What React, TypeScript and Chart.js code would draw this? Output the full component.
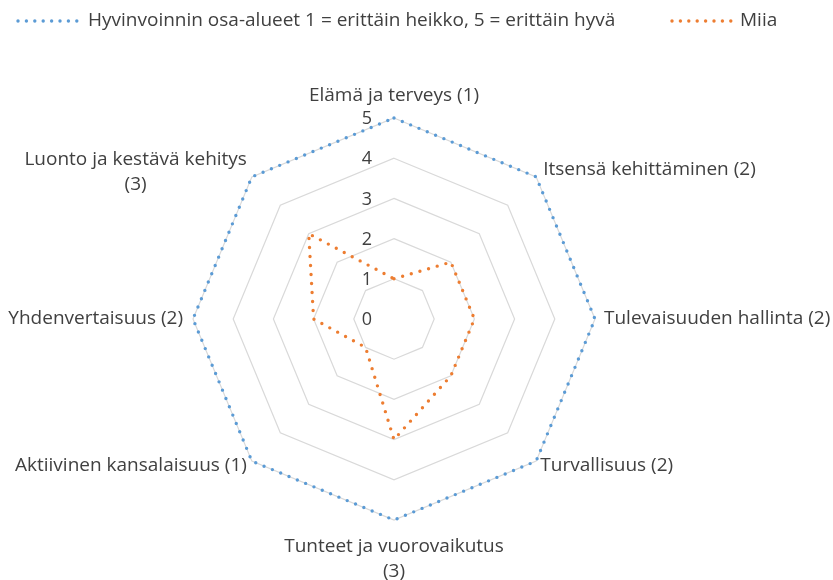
import React, { useEffect, useRef } from "react";
import { Chart, registerables } from "chart.js";

Chart.register(...registerables);

const categories: string[][] = [
  ["Elämä ja terveys (1)"],
  ["Itsensä kehittäminen (2)"],
  ["Tulevaisuuden hallinta (2)"],
  ["Turvallisuus (2)"],
  ["Tunteet ja vuorovaikutus", "(3)"],
  ["Aktiivinen kansalaisuus (1)"],
  ["Yhdenvertaisuus (2)"],
  ["Luonto ja kestävä kehitys", "(3)"],
];
const seriesNames = [
  "Hyvinvoinnin osa-alueet 1 = erittäin heikko, 5 = erittäin hyvä",
  "Miia",
];
const scaleValues = [5, 5, 5, 5, 5, 5, 5, 5];
const miiaValues = [1, 2, 2, 2, 3, 1, 2, 3];
const tickValues = [0, 1, 2, 3, 4, 5];

const FONT = "'Open Sans', Lato, sans-serif";
const TEXT = "#404040";
const BLUE = "#5B9BD5";
const ORANGE = "#ED7D31";

const labelPads = [10, 10, 9, 6, 14, 7, 10, 7];

const customPlugin = {
  id: "custom",
  afterDraw(chart: any) {
    const ctx = chart.ctx as CanvasRenderingContext2D;
    const scale = chart.scales.r;
    const r = scale.drawingArea;
    const n = categories.length;
    ctx.save();
    ctx.fillStyle = TEXT;
    // tick labels
    ctx.font = `18px ${FONT}`;
    ctx.textAlign = "center";
    ctx.textBaseline = "middle";
    tickValues.forEach((v) => {
      const d = scale.getDistanceFromCenterForValue(v);
      ctx.fillText(String(v), scale.xCenter - 27, scale.yCenter - d + 1);
    });
    // point labels
    ctx.font = `19px ${FONT}`;
    const lh = 25;
    categories.forEach((lines, i) => {
      const angleDeg = (i * 360) / n;
      const p = scale.getPointPosition(i, r + labelPads[i]);
      const w = Math.max(...lines.map((l) => ctx.measureText(l).width));
      const h = lines.length * lh;
      let left: number;
      if (angleDeg === 0 || angleDeg === 180) left = p.x - w / 2;
      else if (angleDeg < 180) left = p.x;
      else left = p.x - w;
      let top: number;
      if (angleDeg === 0) top = p.y - h;
      else if (angleDeg === 180) top = p.y;
      else top = p.y - h / 2;
      lines.forEach((l, j) => {
        ctx.fillText(l, left + w / 2, top + lh * j + lh / 2);
      });
    });
    // legend
    const legend = [
      { x: 18, textX: 88 },
      { x: 672, textX: 740 },
    ];
    ctx.font = `19px ${FONT}`;
    ctx.textAlign = "left";
    chart.data.datasets.forEach((ds: any, k: number) => {
      const L = legend[k];
      ctx.fillStyle = ds.borderColor;
      for (let d = 0; d < 8; d++) {
        ctx.beginPath();
        ctx.arc(L.x + d * 8.4, 21, 1.7, 0, Math.PI * 2);
        ctx.fill();
      }
      ctx.fillStyle = TEXT;
      ctx.fillText(ds.label, L.textX, 21);
    });
    ctx.restore();
  },
};

export default function App() {
  const ref = useRef<HTMLCanvasElement | null>(null);
  useEffect(() => {
    if (!ref.current) return;
    const chart = new Chart(ref.current, {
      type: "radar",
      data: {
        labels: categories,
        datasets: [
          {
            label: seriesNames[0],
            data: scaleValues,
            borderColor: BLUE,
            backgroundColor: "transparent",
            borderWidth: 3.4,
            borderDash: [0, 9],
            borderCapStyle: "round",
            pointRadius: 0,
            fill: false,
          },
          {
            label: seriesNames[1],
            data: miiaValues,
            borderColor: ORANGE,
            backgroundColor: "transparent",
            borderWidth: 3.4,
            borderDash: [0, 9],
            borderCapStyle: "round",
            pointRadius: 0,
            fill: false,
          },
        ],
      },
      options: {
        animation: false,
        responsive: true,
        maintainAspectRatio: false,
        layout: { padding: { left: 193, right: 238, top: 118, bottom: 60 } },
        plugins: { legend: { display: false }, tooltip: { enabled: false } },
        scales: {
          r: {
            min: 0,
            max: 5,
            ticks: { stepSize: 1, display: false },
            angleLines: { display: false },
            grid: { color: "#d9d9d9", lineWidth: 1.2 },
            pointLabels: { display: false },
          },
        },
      },
      plugins: [customPlugin],
    });
    return () => chart.destroy();
  }, []);
  return (
    <div style={{ position: "fixed", left: 0, top: 0, width: 833, height: 580, background: "#fff" }}>
      <canvas ref={ref} />
    </div>
  );
}
